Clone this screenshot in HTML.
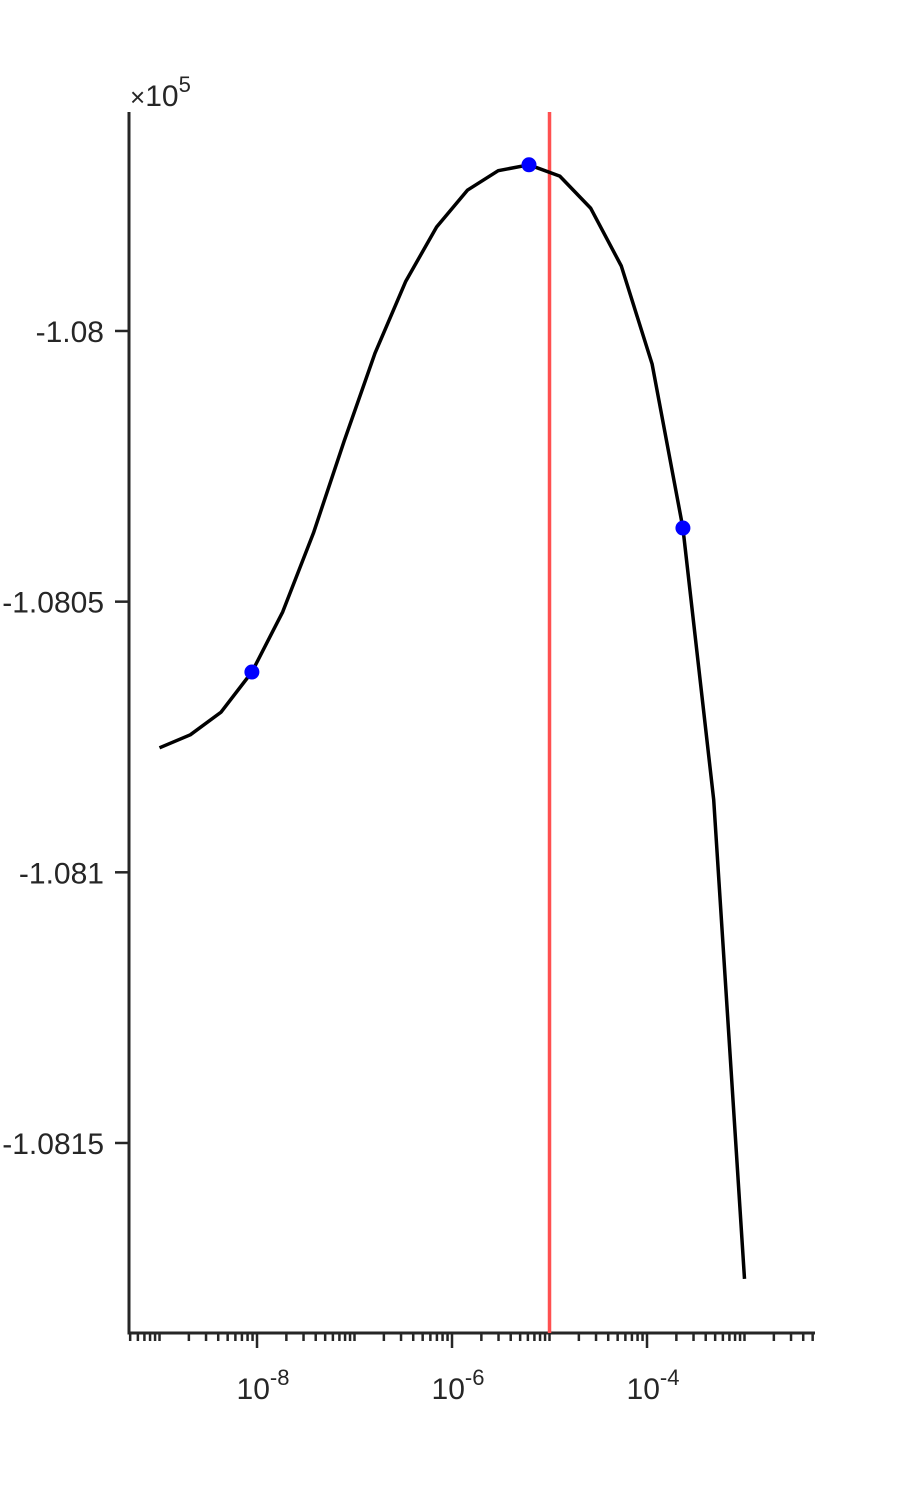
<!DOCTYPE html>
<html><head><meta charset="utf-8"><style>
body{margin:0;background:#fff;width:900px;height:1500px;overflow:hidden}
svg text{font-family:"Liberation Sans",sans-serif;fill:#262626}
</style></head><body>
<svg id="chart" width="900" height="1500" xmlns="http://www.w3.org/2000/svg">
<g id="axes"></g>
<g id="marks"></g>
</svg>
<script>
const xExp = [-9,-8.6842,-8.3684,-8.0526,-7.7368,-7.4211,-7.1053,-6.7895,-6.4737,-6.1579,-5.8421,-5.5263,-5.2105,-4.8947,-4.5789,-4.2632,-3.9474,-3.6316,-3.3158,-3];
const yVals = [-108077.0,-108074.6,-108070.4,-108063.0,-108051.9,-108037.3,-108020.3,-108004.1,-107990.8,-107980.8,-107974.0,-107970.4,-107969.3,-107971.4,-107977.3,-107988.0,-108006.1,-108036.4,-108086.6,-108175.1];
const markerIdx = [3,12,17];
const redLineExp = -5;
const yTicks = [-108000,-108050,-108100,-108150];
const yTickLabels = ["-1.08","-1.0805","-1.081","-1.0815"];
const xMajor = [-8,-6,-4];
const xMajorLabels = ["-8","-6","-4"];

const X0=129,X1=815,Y0=112,Y1=1333;
const xMin=-9.313, xMax=-2.277, yMin=-108185.1, yMax=-107959.55;
const sx=e=>X0+(e-xMin)/(xMax-xMin)*(X1-X0);
const sy=v=>Y1-(v-yMin)/(yMax-yMin)*(Y1-Y0);
const NS="http://www.w3.org/2000/svg";
function mk(parent,tag,attrs){const el=document.createElementNS(NS,tag);for(const k in attrs)el.setAttribute(k,attrs[k]);parent.appendChild(el);return el;}
const ax=document.getElementById('axes'), mg=document.getElementById('marks');

let l=mk(ax,'line',{x1:X0,y1:Y0,x2:X0,y2:Y1+1.5,stroke:'#262626','stroke-width':3});


l=mk(ax,'line',{x1:X0-1.5,y1:Y1,x2:X1,y2:Y1,stroke:'#262626','stroke-width':3});



yTicks.forEach((v,i)=>{
  const y=sy(v);
  const t=mk(ax,'line',{x1:X0-14,y1:y,x2:X0,y2:y,stroke:'#262626','stroke-width':2.5});
  
  
  const tx=mk(ax,'text',{x:104,y:y+11,'text-anchor':'end','font-size':30});
  tx.textContent=yTickLabels[i];
  
  
});
const ex=mk(ax,'text',{x:130,y:106,'font-size':30});
ex.innerHTML='<tspan font-size="26">×</tspan>10<tspan dy="-14" font-size="22">5</tspan>';



for(let d=-10;d<=-3;d++){
  for(let m=1;m<=9;m++){
    const e=d+Math.log10(m);
    if(e<xMin||e>xMax)continue;
    const major=(m===1&&xMajor.includes(d));
    const x=sx(e);
    const t=mk(ax,'line',{x1:x,y1:Y1,x2:x,y2:Y1+(major?15:8),stroke:'#262626','stroke-width':2.5});
    
    
  }
}
xMajor.forEach((e,i)=>{
  const tx=mk(ax,'text',{x:sx(e)+6,y:1399,'text-anchor':'middle','font-size':30});
  tx.innerHTML='10<tspan dy="-14" font-size="22">'+xMajorLabels[i]+'</tspan>';
  
  
});

const rx=sx(redLineExp);
const red=mk(mg,'line',{x1:rx,y1:Y0,x2:rx,y2:Y1,stroke:'#ff5050','stroke-width':3.5});



const pts=xExp.map((e,i)=>sx(e).toFixed(1)+','+sy(yVals[i]).toFixed(1)).join(' ');
const pl=mk(mg,'polyline',{points:pts,fill:'none',stroke:'#000','stroke-width':3.5,'stroke-linejoin':'round'});


markerIdx.forEach(i=>{
  const c=mk(mg,'circle',{cx:sx(xExp[i]),cy:sy(yVals[i]),r:7.5,fill:'#0000ff'});
  
  
});
</script>
</body></html>
